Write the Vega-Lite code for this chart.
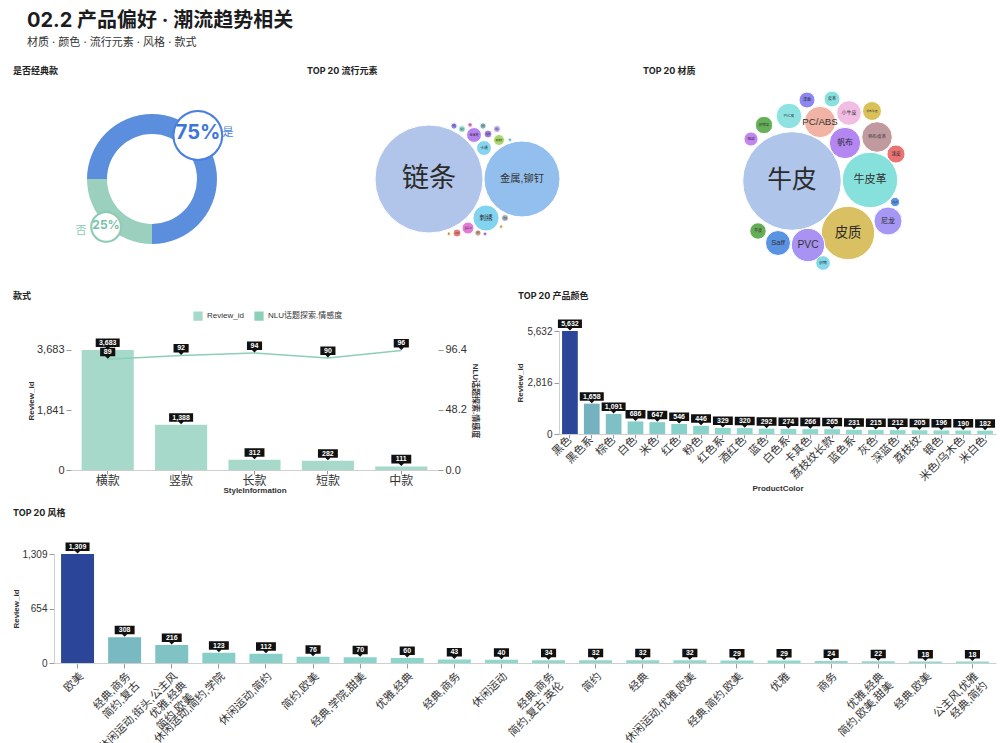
{
  "$schema": "https://vega.github.io/schema/vega-lite/v6.json",
  "background": "white",
  "padding": {"left": 12, "top": 11, "right": 5, "bottom": 0},
  "title": {
    "text": "02.2 产品偏好 · 潮流趋势相关",
    "subtitle": "材质 · 颜色 · 流行元素 · 风格 · 款式",
    "anchor": "start",
    "frame": "group",
    "font": "Inter, 'Noto Sans CJK SC', sans-serif",
    "fontSize": 20,
    "fontWeight": "bold",
    "color": "#1c1c1e",
    "subtitleFont": "Inter, 'Noto Sans CJK SC', sans-serif",
    "subtitleFontSize": 11,
    "subtitleColor": "#333333",
    "subtitlePadding": 6,
    "dx": 14,
    "offset": 19
  },
  "config": {
    "font": "'Liberation Sans', 'Noto Sans CJK SC', sans-serif",
    "view": {"stroke": null},
    "title": {"anchor": "start", "frame": "group", "fontSize": 9, "fontWeight": "bold", "color": "#222222", "offset": 5, "font": "Inter, 'Noto Sans CJK SC', sans-serif"},
    "axis": {"labelColor": "#333333", "titleColor": "#333333", "domainColor": "#cfcfcf", "tickColor": "#9a9a9a", "labelFontSize": 10, "titleFontSize": 8, "titleFontWeight": "bold", "grid": false, "tickSize": 5, "labelFlush": false, "labelPadding": 2},
    "legend": {"labelFontSize": 8, "labelColor": "#333333"}
  },
  "resolve": {"scale": {"color": "independent", "size": "independent"}},
  "vconcat": [
    {
      "resolve": {"scale": {"color": "independent", "size": "independent", "stroke": "independent"}},
      "hconcat": [
        {
          "title": {"text": "是否经典款"},
          "width": 278,
          "height": 196,
          "data": {"values": [{"是否经典款": "是", "占比": 0.75}, {"是否经典款": "否", "占比": 0.25}]},
          "encoding": {
            "theta": {"field": "占比", "type": "quantitative", "stack": true, "scale": {"range": [-1.5707963, 4.712389]}},
            "order": {"field": "占比", "sort": "descending"}
          },
          "layer": [
            {"mark": {"type": "arc", "innerRadius": 45, "outerRadius": 65},
             "encoding": {"color": {"field": "是否经典款", "type": "nominal", "scale": {"domain": ["是", "否"], "range": ["#5b8fde", "#9bd0bf"]}, "legend": null}}},
            {"mark": {"type": "text", "radius": 65, "text": "●", "font": "DejaVu Sans", "fill": "white", "strokeWidth": 2, "baseline": "middle"},
             "encoding": {
               "stroke": {"field": "是否经典款", "type": "nominal", "scale": {"domain": ["是", "否"], "range": ["#4b80e0", "#8ccbb5"]}, "legend": null},
               "size": {"field": "占比", "type": "quantitative", "scale": {"domain": [0.25, 0.75], "range": [39, 64], "zero": false, "nice": false}, "legend": null}}},
            {"mark": {"type": "text", "radius": 65, "fontWeight": "bold", "baseline": "middle", "font": "Inter, sans-serif"},
             "encoding": {
               "text": {"field": "占比", "type": "quantitative", "format": ".0%"},
               "color": {"field": "是否经典款", "type": "nominal", "scale": {"domain": ["是", "否"], "range": ["#3e75da", "#76c1a9"]}, "legend": null},
               "size": {"field": "占比", "type": "quantitative", "scale": {"domain": [0.25, 0.75], "range": [12, 20], "zero": false, "nice": false}, "legend": null}}},
            {"mark": {"type": "text", "radius": 65, "dx": 30, "fontSize": 11, "color": "#4a7fdc", "baseline": "middle"},
             "encoding": {"text": {"condition": {"test": "datum['是否经典款'] == '是'", "field": "是否经典款"}, "value": ""}}},
            {"mark": {"type": "text", "radius": 65, "dx": -25, "dy": 6, "fontSize": 11, "color": "#8ccbb5", "baseline": "middle"},
             "encoding": {"text": {"condition": {"test": "datum['是否经典款'] == '否'", "field": "是否经典款"}, "value": ""}}}
          ],
          "resolve": {"scale": {"color": "independent", "size": "independent"}}
        },
        {
          "title": {"text": "TOP 20 流行元素"},
          "width": 320,
          "height": 196,
          "data": {"values": [
            {"name": "链条", "lx": 122, "ly": 98, "value": 1458},
            {"name": "金属,铆钉", "lx": 215, "ly": 98, "value": 722},
            {"name": "刺绣", "lx": 179, "ly": 137, "value": 85},
            {"name": "珍珠", "lx": 198, "ly": 137, "value": 6},
            {"name": "流苏", "lx": 194, "ly": 146, "value": 2},
            {"name": "金属扣", "lx": 161, "ly": 147, "value": 18},
            {"name": "字母", "lx": 150, "ly": 152, "value": 8},
            {"name": "亮片", "lx": 142, "ly": 153, "value": 2},
            {"name": "铆钉", "lx": 171, "ly": 152, "value": 5},
            {"name": "印花", "lx": 178, "ly": 153, "value": 2},
            {"name": "卡通", "lx": 177, "ly": 67, "value": 28},
            {"name": "金属链", "lx": 167, "ly": 54, "value": 28},
            {"name": "格纹", "lx": 181, "ly": 53, "value": 8},
            {"name": "蝴蝶结", "lx": 192, "ly": 59, "value": 15},
            {"name": "拼接", "lx": 190, "ly": 48, "value": 6},
            {"name": "条纹", "lx": 176, "ly": 45, "value": 5},
            {"name": "水钻", "lx": 163, "ly": 44, "value": 3},
            {"name": "编织", "lx": 155, "ly": 48, "value": 6},
            {"name": "撞色", "lx": 147, "ly": 45, "value": 5},
            {"name": "徽标", "lx": 203, "ly": 59, "value": 2}
          ]},
          "encoding": {
            "x": {"field": "lx", "type": "quantitative", "scale": {"domain": [0, 320], "nice": false, "zero": false}, "axis": null},
            "y": {"field": "ly", "type": "quantitative", "scale": {"domain": [0, 196], "nice": false, "zero": false, "reverse": true}, "axis": null}
          },
          "layer": [
            {"mark": {"type": "point", "shape": "circle", "filled": true, "opacity": 1, "stroke": "white", "strokeWidth": 1},
             "encoding": {
               "size": {"field": "value", "type": "quantitative", "scale": {"type": "linear", "domain": [0, 1000], "range": [0, 8000]}, "legend": null},
               "color": {"field": "name", "type": "nominal", "scale": {
                 "domain": ["链条", "金属,铆钉", "刺绣", "珍珠", "流苏", "金属扣", "字母", "亮片", "铆钉", "印花", "卡通", "金属链", "格纹", "蝴蝶结", "拼接", "条纹", "水钻", "编织", "撞色", "徽标"],
                 "range": ["#b1c5ea", "#93bfee", "#82d3ef", "#9ea8ad", "#e8c45a", "#e57ad8", "#e87a7a", "#f0c060", "#c9a08e", "#a57adf", "#85d5f0", "#b583f0", "#a27ed8", "#a8d66a", "#b7a6ea", "#7fb0b8", "#f47ad6", "#8ad6c8", "#8a84e6", "#7be3e6"]}, "legend": null}}},
            {"transform": [{"filter": "length(datum.name) <= 2 && !test(regexp('[A-Za-z]'), datum.name)"}],
             "mark": {"type": "text", "color": "#2b2b2b", "baseline": "middle"},
             "encoding": {"text": {"field": "name"}, "size": {"field": "value", "type": "quantitative", "scale": {"type": "sqrt", "domain": [0, 1000], "range": [0, 22.4]}, "legend": null}}},
            {"transform": [{"filter": "length(datum.name) == 3 && !test(regexp('[A-Za-z]'), datum.name)"}],
             "mark": {"type": "text", "color": "#333333", "baseline": "middle"},
             "encoding": {"text": {"field": "name"}, "size": {"field": "value", "type": "quantitative", "scale": {"type": "sqrt", "domain": [0, 1000], "range": [0, 17.9]}, "legend": null}}},
            {"transform": [{"filter": "!test(regexp('^[A-Za-z/]+$'), datum.name) && (length(datum.name) >= 4 || test(regexp('[A-Za-z]'), datum.name))"}],
             "mark": {"type": "text", "color": "#333333", "baseline": "middle"},
             "encoding": {"text": {"field": "name"}, "size": {"field": "value", "type": "quantitative", "scale": {"type": "sqrt", "domain": [0, 1000], "range": [0, 12.1]}, "legend": null}}}
          ],
          "resolve": {"scale": {"size": "independent"}}
        },
        {
          "title": {"text": "TOP 20 材质"},
          "width": 348,
          "height": 196,
          "data": {"values": [
            {"name": "牛皮", "lx": 149, "ly": 100, "value": 1215},
            {"name": "牛皮革", "lx": 227, "ly": 99, "value": 384},
            {"name": "皮质", "lx": 205, "ly": 152, "value": 356},
            {"name": "PVC", "lx": 165, "ly": 164, "value": 139},
            {"name": "Saff", "lx": 135, "ly": 162, "value": 78},
            {"name": "尼龙", "lx": 245, "ly": 140, "value": 98},
            {"name": "鳄鱼纹", "lx": 252, "ly": 121, "value": 11},
            {"name": "织物", "lx": 180, "ly": 182, "value": 27},
            {"name": "羊皮", "lx": 115, "ly": 150, "value": 34},
            {"name": "帆布", "lx": 202, "ly": 62, "value": 123},
            {"name": "帆布/皮革", "lx": 234, "ly": 56, "value": 117},
            {"name": "漆皮", "lx": 253, "ly": 73, "value": 41},
            {"name": "PC/ABS", "lx": 177, "ly": 41, "value": 123},
            {"name": "小牛皮", "lx": 206, "ly": 32, "value": 76},
            {"name": "帆布/牛皮", "lx": 229, "ly": 30, "value": 45},
            {"name": "皮革", "lx": 189, "ly": 18, "value": 32},
            {"name": "漆面", "lx": 164, "ly": 19, "value": 32},
            {"name": "PVC皮", "lx": 146, "ly": 35, "value": 82},
            {"name": "织物革", "lx": 121, "ly": 44, "value": 38},
            {"name": "短绒", "lx": 108, "ly": 58, "value": 25}
          ]},
          "encoding": {
            "x": {"field": "lx", "type": "quantitative", "scale": {"domain": [0, 348], "nice": false, "zero": false}, "axis": null},
            "y": {"field": "ly", "type": "quantitative", "scale": {"domain": [0, 196], "nice": false, "zero": false, "reverse": true}, "axis": null}
          },
          "layer": [
            {"mark": {"type": "point", "shape": "circle", "filled": true, "opacity": 1, "stroke": "white", "strokeWidth": 1},
             "encoding": {
               "size": {"field": "value", "type": "quantitative", "scale": {"type": "linear", "domain": [0, 1000], "range": [0, 8000]}, "legend": null},
               "color": {"field": "name", "type": "nominal", "scale": {
                 "domain": ["牛皮", "牛皮革", "皮质", "PVC", "Saff", "尼龙", "鳄鱼纹", "织物", "羊皮", "帆布", "帆布/皮革", "漆皮", "PC/ABS", "小牛皮", "帆布/牛皮", "皮革", "漆面", "PVC皮", "织物革", "短绒"],
                 "range": ["#afc6ea", "#86e0dc", "#d9c163", "#a993f2", "#5b93e3", "#a797f5", "#5b93e3", "#83d8ea", "#66ad58", "#b386f2", "#c09a9e", "#ea7474", "#f0b3a4", "#f1bde3", "#d9c158", "#88e0e0", "#8c86f2", "#8ee2e2", "#66b05a", "#c286f0"]}, "legend": null}}},
            {"transform": [{"filter": "length(datum.name) <= 2 && !test(regexp('[A-Za-z]'), datum.name)"}],
             "mark": {"type": "text", "color": "#2b2b2b", "baseline": "middle"},
             "encoding": {"text": {"field": "name"}, "size": {"field": "value", "type": "quantitative", "scale": {"type": "sqrt", "domain": [0, 1000], "range": [0, 22.4]}, "legend": null}}},
            {"transform": [{"filter": "length(datum.name) == 3 && !test(regexp('[A-Za-z]'), datum.name)"}],
             "mark": {"type": "text", "color": "#333333", "baseline": "middle"},
             "encoding": {"text": {"field": "name"}, "size": {"field": "value", "type": "quantitative", "scale": {"type": "sqrt", "domain": [0, 1000], "range": [0, 17.9]}, "legend": null}}},
            {"transform": [{"filter": "!test(regexp('^[A-Za-z/]+$'), datum.name) && (length(datum.name) >= 4 || test(regexp('[A-Za-z]'), datum.name))"}],
             "mark": {"type": "text", "color": "#333333", "baseline": "middle"},
             "encoding": {"text": {"field": "name"}, "size": {"field": "value", "type": "quantitative", "scale": {"type": "sqrt", "domain": [0, 1000], "range": [0, 12.1]}, "legend": null}}},
            {"transform": [{"filter": "test(regexp('^[A-Za-z/]+$'), datum.name)"}],
             "mark": {"type": "text", "color": "#333333", "baseline": "middle"},
             "encoding": {"text": {"field": "name"}, "size": {"field": "value", "type": "quantitative", "scale": {"type": "sqrt", "domain": [0, 1000], "range": [0, 27.7]}, "legend": null}}}
          ],
          "resolve": {"scale": {"size": "independent"}}
        }
      ],
      "spacing": 16,
      "bounds": "flush"
    },
    {
      "resolve": {"scale": {"color": "independent"}},
      "hconcat": [
        {"width": 58, "height": 1, "data": {"values": []}, "mark": "point"},
        {
          "title": {"text": "款式", "dx": -58, "offset": 10},
          "width": 367,
          "height": 139,
          "data": {"values": [
            {"StyleInformation": "横款", "Review_id": 3683, "情感度": 89},
            {"StyleInformation": "竖款", "Review_id": 1388, "情感度": 92},
            {"StyleInformation": "长款", "Review_id": 312, "情感度": 94},
            {"StyleInformation": "短款", "Review_id": 282, "情感度": 90},
            {"StyleInformation": "中款", "Review_id": 111, "情感度": 96}
          ]},
          "encoding": {
            "x": {"field": "StyleInformation", "type": "nominal", "sort": null, "scale": {"paddingInner": 0.29, "paddingOuter": 0.145},
                  "axis": {"labelAngle": 0, "labelFontSize": 12, "tickSize": 4, "labelPadding": 1, "title": "StyleInformation", "titlePadding": 0}}
          },
          "layer": [
            {
              "encoding": {"y": {"field": "Review_id", "type": "quantitative", "scale": {"domain": [0, 4266], "nice": false},
                                 "axis": {"values": [0, 1841, 3683], "format": ",d", "labelFontSize": 11, "title": "Review_id", "titlePadding": 1, "domain": false}}},
              "layer": [
                {"mark": {"type": "bar", "color": "#a6d9c9"},
                 "encoding": {"color": {"datum": "Review_id", "type": "nominal",
                   "scale": {"domain": ["Review_id", "NLU话题探索.情感度"], "range": ["#a6d9c9", "#8ccfb9"]},
                   "legend": {"orient": "none", "legendX": 122, "legendY": -20, "direction": "horizontal", "title": null, "symbolType": "square", "symbolSize": 60, "labelFontSize": 8, "columnPadding": 8}}}},
                {"mark": {"type": "point", "filled": true, "opacity": 1, "color": "#111111", "size": 576},
                 "encoding": {"shape": {"condition": [
                   {"test": "datum.Review_id >= 1000", "value": "M-1,-0.96L1,-0.96L1,-0.25L0.21,-0.25L0,-0.04L-0.21,-0.25L-1,-0.25Z"},
                   {"test": "datum.Review_id >= 100", "value": "M-0.83,-0.96L0.83,-0.96L0.83,-0.25L0.21,-0.25L0,-0.04L-0.21,-0.25L-0.83,-0.25Z"}],
                   "value": "M-0.63,-0.96L0.63,-0.96L0.63,-0.25L0.21,-0.25L0,-0.04L-0.21,-0.25L-0.63,-0.25Z"}}},
                {"mark": {"type": "text", "color": "white", "fontSize": 7, "fontWeight": "bold", "dy": -7, "baseline": "middle"},
                 "encoding": {"text": {"field": "Review_id", "type": "quantitative", "format": ","}}}
              ]
            },
            {
              "encoding": {"y": {"field": "情感度", "type": "quantitative", "scale": {"domain": [0, 111.66], "nice": false},
                                 "axis": {"orient": "right", "values": [0, 48.2, 96.4], "format": ".1f", "labelFontSize": 11, "title": "NLU话题探索.情感度", "domain": false}}},
              "layer": [
                {"mark": {"type": "line", "strokeWidth": 1.5},
                 "encoding": {"color": {"datum": "NLU话题探索.情感度", "type": "nominal"}}},
                {"mark": {"type": "point", "filled": true, "opacity": 1, "color": "#111111", "size": 576,
                          "shape": "M-0.63,-0.96L0.63,-0.96L0.63,-0.25L0.21,-0.25L0,-0.04L-0.21,-0.25L-0.63,-0.25Z"}},
                {"mark": {"type": "text", "color": "white", "fontSize": 7, "fontWeight": "bold", "dy": -7, "baseline": "middle"},
                 "encoding": {"text": {"field": "情感度", "type": "quantitative"}}}
              ]
            }
          ],
          "resolve": {"scale": {"y": "independent"}}
        },
        {"width": 121, "height": 1, "data": {"values": []}, "mark": "point"},
        {
          "title": {"text": "TOP 20 产品颜色", "dx": -41, "offset": 18.5},
          "width": 437,
          "height": 103,
          "data": {"values": [
            {"ProductColor": "黑色", "Review_id": 5632},
            {"ProductColor": "黑色系", "Review_id": 1658},
            {"ProductColor": "棕色", "Review_id": 1091},
            {"ProductColor": "白色", "Review_id": 686},
            {"ProductColor": "米色", "Review_id": 647},
            {"ProductColor": "红色", "Review_id": 546},
            {"ProductColor": "粉色", "Review_id": 446},
            {"ProductColor": "红色系", "Review_id": 329},
            {"ProductColor": "酒红色", "Review_id": 320},
            {"ProductColor": "蓝色", "Review_id": 292},
            {"ProductColor": "白色系", "Review_id": 274},
            {"ProductColor": "卡其色", "Review_id": 266},
            {"ProductColor": "荔枝纹长款", "Review_id": 265},
            {"ProductColor": "蓝色系", "Review_id": 231},
            {"ProductColor": "灰色", "Review_id": 215},
            {"ProductColor": "深蓝色", "Review_id": 212},
            {"ProductColor": "荔枝纹", "Review_id": 205},
            {"ProductColor": "银色", "Review_id": 196},
            {"ProductColor": "米色/乌木色", "Review_id": 190},
            {"ProductColor": "米白色", "Review_id": 182}
          ]},
          "encoding": {
            "x": {"field": "ProductColor", "type": "nominal", "sort": null, "scale": {"paddingInner": 0.28, "paddingOuter": 0.14},
                  "axis": {"labelAngle": -45, "labelFontSize": 11, "labelBaseline": "middle", "tickSize": 4, "labelPadding": 0, "title": "ProductColor", "titlePadding": 2}},
            "y": {"field": "Review_id", "type": "quantitative", "scale": {"domain": [0, 5632], "nice": false},
                  "axis": {"values": [0, 2816, 5632], "format": ",d", "title": "Review_id", "titlePadding": 2}}
          },
          "layer": [
            {"mark": {"type": "bar"},
             "encoding": {"color": {"field": "Review_id", "type": "quantitative", "scale": {"range": ["#8fdacd", "#2b4699"], "interpolate": "rgb"}, "legend": null}}},
            {"mark": {"type": "point", "filled": true, "opacity": 1, "color": "#111111", "size": 576},
             "encoding": {"shape": {"condition": [
               {"test": "datum.Review_id >= 1000", "value": "M-1,-0.96L1,-0.96L1,-0.25L0.21,-0.25L0,-0.04L-0.21,-0.25L-1,-0.25Z"},
               {"test": "datum.Review_id >= 100", "value": "M-0.83,-0.96L0.83,-0.96L0.83,-0.25L0.21,-0.25L0,-0.04L-0.21,-0.25L-0.83,-0.25Z"}],
               "value": "M-0.63,-0.96L0.63,-0.96L0.63,-0.25L0.21,-0.25L0,-0.04L-0.21,-0.25L-0.63,-0.25Z"}}},
            {"mark": {"type": "text", "color": "white", "fontSize": 7, "fontWeight": "bold", "dy": -7, "baseline": "middle"},
             "encoding": {"text": {"field": "Review_id", "type": "quantitative", "format": ","}}}
          ]
        }
      ],
      "spacing": 0,
      "bounds": "flush"
    },
    {
      "hconcat": [
        {"width": 41, "height": 1, "data": {"values": []}, "mark": "point"},
        {
          "title": {"text": "TOP 20 风格", "dx": -41, "offset": 24.5},
          "width": 942,
          "height": 109,
          "data": {"values": [
            {"Style": "欧美", "Review_id": 1309},
            {"Style": "经典,商务\n简约,复古", "Review_id": 308},
            {"Style": "休闲运动,街头,公主风\n优雅,经典\n简约,欧美,", "Review_id": 216},
            {"Style": "休闲运动,简约,学院", "Review_id": 123},
            {"Style": "休闲运动,简约", "Review_id": 112},
            {"Style": "简约,欧美", "Review_id": 76},
            {"Style": "经典,学院,甜美", "Review_id": 70},
            {"Style": "优雅,经典", "Review_id": 60},
            {"Style": "经典,商务", "Review_id": 43},
            {"Style": "休闲运动", "Review_id": 40},
            {"Style": "经典,商务\n简约,复古,英伦", "Review_id": 34},
            {"Style": "简约", "Review_id": 32},
            {"Style": "经典", "Review_id": 32},
            {"Style": "休闲运动,优雅,欧美", "Review_id": 32},
            {"Style": "经典,简约,欧美", "Review_id": 29},
            {"Style": "优雅", "Review_id": 29},
            {"Style": "商务", "Review_id": 24},
            {"Style": "优雅,经典\n简约,欧美,甜美", "Review_id": 22},
            {"Style": "经典,欧美", "Review_id": 18},
            {"Style": "公主风,优雅\n经典,简约", "Review_id": 18}
          ]},
          "encoding": {
            "x": {"field": "Style", "type": "nominal", "sort": null, "scale": {"paddingInner": 0.3, "paddingOuter": 0.15},
                  "axis": {"labelAngle": -45, "labelFontSize": 11, "title": null, "labelExpr": "split(datum.label, '\\n')"}},
            "y": {"field": "Review_id", "type": "quantitative", "scale": {"domain": [0, 1309], "nice": false},
                  "axis": {"values": [0, 654, 1309], "format": ",d", "title": "Review_id", "titlePadding": 1}}
          },
          "layer": [
            {"mark": {"type": "bar"},
             "encoding": {"color": {"field": "Review_id", "type": "quantitative", "scale": {"range": ["#8fdacd", "#2b4699"], "interpolate": "rgb"}, "legend": null}}},
            {"mark": {"type": "point", "filled": true, "opacity": 1, "color": "#111111", "size": 576},
             "encoding": {"shape": {"condition": [
               {"test": "datum.Review_id >= 1000", "value": "M-1,-0.96L1,-0.96L1,-0.25L0.21,-0.25L0,-0.04L-0.21,-0.25L-1,-0.25Z"},
               {"test": "datum.Review_id >= 100", "value": "M-0.83,-0.96L0.83,-0.96L0.83,-0.25L0.21,-0.25L0,-0.04L-0.21,-0.25L-0.83,-0.25Z"}],
               "value": "M-0.63,-0.96L0.63,-0.96L0.63,-0.25L0.21,-0.25L0,-0.04L-0.21,-0.25L-0.63,-0.25Z"}}},
            {"mark": {"type": "text", "color": "white", "fontSize": 7, "fontWeight": "bold", "dy": -7, "baseline": "middle"},
             "encoding": {"text": {"field": "Review_id", "type": "quantitative", "format": ","}}}
          ]
        }
      ],
      "spacing": 0,
      "bounds": "flush"
    }
  ],
  "spacing": 14
}
